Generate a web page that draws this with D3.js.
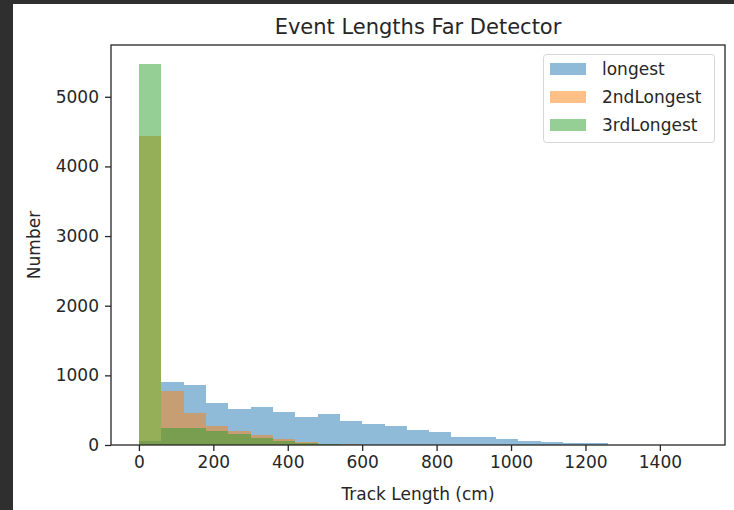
<!DOCTYPE html>
<html><head><meta charset="utf-8">
<script src="https://cdn.jsdelivr.net/npm/d3@7"></script>
<style>
html,body{margin:0;padding:0;background:#2f2f2f;}
svg{display:block;}
text{font-family:"DejaVu Sans",sans-serif;fill:#262626;}
</style></head>
<body>
<svg id="chart" width="734" height="510"></svg>
<script>
// Histogram bin edges (cm) and counts per bin
const binEdges = [0,60,120,180,240,300,360,420,480,540,600,660,720,780,840,900,960,1020,1080,1140,1200,1260,1320,1380,1440,1500];
const longest    = [60,910,862,598,512,540,479,407,440,349,302,276,220,191,119,110,86,62,38,33,29,0,0,0,0];
const secondLongest = [4440,780,455,275,200,150,85,45,20,8,0,0,0,0,0,0,0,0,0,0,0,0,0,0,0];
const thirdLongest  = [5470,245,245,205,155,100,60,30,12,5,0,0,0,0,0,0,0,0,0,0,0,0,0,0,0];
const seriesNames = ["longest","2ndLongest","3rdLongest"];
const seriesColors = ["#1f77b4","#ff7f0e","#2ca02c"];
const xTicks = [0,200,400,600,800,1000,1200,1400];
const yTicks = [0,1000,2000,3000,4000,5000];

const svg = d3.select("#chart");
svg.append("rect").attr("x",13).attr("y",4).attr("width",721).attr("height",506).attr("fill","#ffffff");

const L=111,R=725,T=45,B=445;
const xMin = binEdges[0], xMax = binEdges[binEdges.length-1];
const pad = (xMax-xMin)*0.05;
const x = d3.scaleLinear().domain([xMin-pad,xMax+pad]).range([L,R]);
const yMax = d3.max([...longest,...secondLongest,...thirdLongest])*1.05;
const y = d3.scaleLinear().domain([0,yMax]).range([B,T]);

const allSeries=[longest,secondLongest,thirdLongest];
allSeries.forEach((vals,si)=>{
  const data = vals.map((v,i)=>({x0:binEdges[i],x1:binEdges[i+1],v}));
  svg.append("g").selectAll("rect").data(data.filter(d=>d.v>0)).join("rect")
    .attr("x",d=>x(d.x0)).attr("width",d=>x(d.x1)-x(d.x0))
    .attr("y",d=>y(d.v)).attr("height",d=>y(0)-y(d.v))
    .attr("fill",seriesColors[si]).attr("fill-opacity",0.5)
    .attr("shape-rendering","crispEdges");
});

// axes
const xAxis = d3.axisBottom(x).tickValues(xTicks).tickSize(6).tickPadding(5).tickFormat(d3.format("d"));
const gx = svg.append("g").attr("transform",`translate(0,${B})`).call(xAxis);
gx.select(".domain").remove();
gx.selectAll("line").attr("stroke","#262626").attr("stroke-width",1.3);
gx.selectAll("text").style("font-size","17px").style("fill","#262626");

const yAxis = d3.axisLeft(y).tickValues(yTicks).tickSize(6).tickPadding(6).tickFormat(d3.format("d"));
const gy = svg.append("g").attr("transform",`translate(${L},0)`).call(yAxis);
gy.select(".domain").remove();
gy.selectAll("line").attr("stroke","#262626").attr("stroke-width",1.3);
gy.selectAll("text").style("font-size","17px").style("fill","#262626");

svg.append("rect").attr("x",L).attr("y",T).attr("width",R-L).attr("height",B-T)
  .attr("fill","none").attr("stroke","#262626").attr("stroke-width",1.3);

svg.append("text").attr("x",(L+R)/2).attr("y",34).attr("text-anchor","middle")
  .style("font-size","21px").text("Event Lengths Far Detector");
svg.append("text").attr("x",(L+R)/2).attr("y",500).attr("text-anchor","middle")
  .style("font-size","17px").text("Track Length (cm)");
svg.append("text").attr("transform",`translate(40,${(T+B)/2}) rotate(-90)`).attr("text-anchor","middle")
  .style("font-size","17px").text("Number");

// legend
const lg = svg.append("g");
lg.append("rect").attr("x",543.5).attr("y",54.5).attr("width",171).attr("height",88).attr("rx",3)
  .attr("fill","#fff").attr("fill-opacity",0.8).attr("stroke","#d6d6d6");
seriesNames.forEach((n,i)=>{
  const cy = 69+i*28;
  lg.append("rect").attr("x",550).attr("y",cy-6).attr("width",36).attr("height",12)
    .attr("fill",seriesColors[i]).attr("fill-opacity",0.5);
  lg.append("text").attr("x",602).attr("y",cy+6).style("font-size","17px").text(n);
});
</script>
</body></html>
